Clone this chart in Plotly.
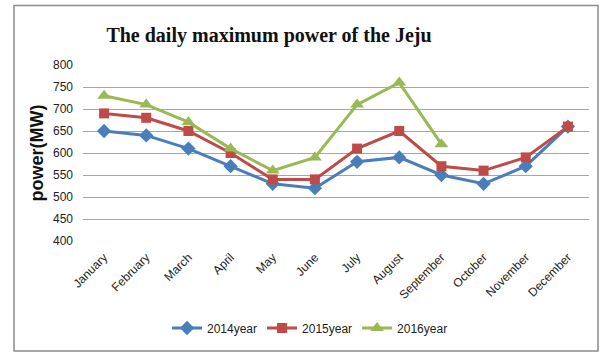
import plotly.graph_objects as go

months = ["January", "February", "March", "April", "May", "June", "July",
          "August", "September", "October", "November", "December"]
y2014 = [650, 640, 610, 570, 530, 520, 580, 590, 550, 530, 570, 660]
y2015 = [690, 680, 650, 600, 540, 540, 610, 650, 570, 560, 590, 660]
y2016 = [730, 710, 670, 610, 560, 590, 710, 760, 620]
series_names = ["2014year", "2015year", "2016year"]
y_ticks = [400, 450, 500, 550, 600, 650, 700, 750, 800]

tick_font = dict(family="Liberation Sans Narrow, Arial Narrow, Liberation Sans, sans-serif",
                 size=12, color="#222")

fig = go.Figure()
fig.add_trace(go.Scatter(x=months, y=y2014, name=series_names[0], mode="lines+markers",
                         line=dict(color="#4A7EBB", width=3),
                         marker=dict(symbol="diamond", size=11, color="#4A7EBB")))
fig.add_trace(go.Scatter(x=months, y=y2015, name=series_names[1], mode="lines+markers",
                         line=dict(color="#BE4B48", width=3),
                         marker=dict(symbol="square", size=10, color="#BE4B48")))
fig.add_trace(go.Scatter(x=months[:len(y2016)], y=y2016, name=series_names[2], mode="lines+markers",
                         line=dict(color="#98B954", width=3),
                         marker=dict(symbol="triangle-up", size=12, color="#98B954")))

fig.update_layout(
    width=600, height=353,
    margin=dict(l=83, r=11, t=65, b=112),
    paper_bgcolor="white", plot_bgcolor="white",
    title=dict(text="<b>The daily maximum power of the Jeju</b>",
               font=dict(family="Liberation Serif, Times New Roman, serif", size=20, color="#111"),
               x=(269 - 83) / 506, xanchor="center", y=1 - 35/353, yanchor="middle", xref="paper"),
    xaxis=dict(type="category", categoryorder="array", categoryarray=months,
               range=[-0.5, 11.5], tickangle=-45, tickfont=tick_font,
               showgrid=False, showline=False, ticks="", ticklabelstandoff=6),
    yaxis=dict(range=[400, 800], tickvals=y_ticks, tickfont=tick_font,
               showgrid=True, gridcolor="#A6A6A6", gridwidth=1, zeroline=False,
               showline=False, ticks="", ticklabelstandoff=9,
               title=dict(text="<b>power(MW)</b>",
                          font=dict(family="Liberation Sans, Arial, sans-serif", size=18, color="#111"),
                          standoff=4)),
    legend=dict(orientation="h", x=(310 - 83) / 506, xanchor="center", y=(241 - 328) / 176, yanchor="middle",
                font=tick_font, itemwidth=30, bgcolor="rgba(0,0,0,0)"),
    shapes=[dict(type="rect", xref="paper", yref="paper",
                 x0=(14 - 83) / 506, x1=(598 - 83) / 506,
                 y0=(241 - 351) / 176, y1=(241 - 5.5) / 176,
                 line=dict(color="#8C8C8C", width=1.5), layer="below")],
)

fig.write_html("out.html")
